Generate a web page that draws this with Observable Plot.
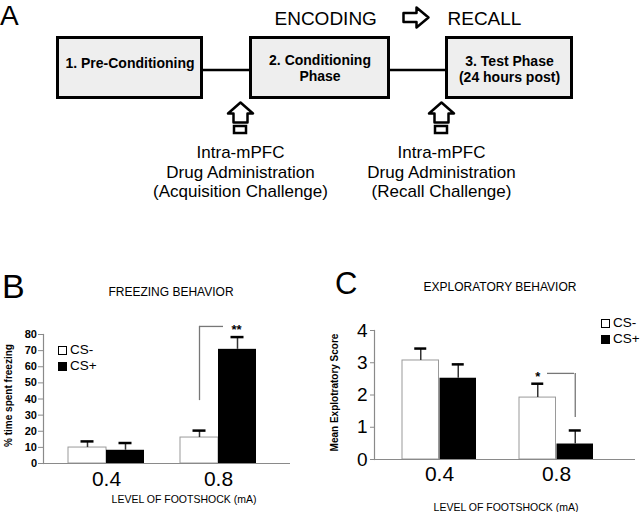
<!DOCTYPE html>
<html><head><meta charset="utf-8">
<script src="https://cdn.jsdelivr.net/npm/d3@7"></script>
<script src="https://cdn.jsdelivr.net/npm/@observablehq/plot@0.6"></script>
<style>
body{margin:0;background:#fff;}
#fig{position:relative;width:640px;height:512px;overflow:hidden;font-family:"Liberation Sans",Arial,sans-serif;color:#000;}
#fig svg{position:absolute;}
.t{position:absolute;line-height:1;white-space:nowrap;}
.sw{position:absolute;width:9px;height:9px;box-sizing:border-box;border:1px solid #000;}
</style></head>
<body><div id="fig"></div>
<script>
// ---------- data ----------
const phases = ["1. Pre-Conditioning", "2. Conditioning\nPhase", "3. Test Phase\n(24 hours post)"];
const stages = ["ENCODING", "RECALL"];
const injections = ["Intra-mPFC\nDrug Administration\n(Acquisition Challenge)", "Intra-mPFC\nDrug Administration\n(Recall Challenge)"];

const doses = ["0.4", "0.8"];
const groups = ["CS-", "CS+"];

const freezeMinus = [9.9, 16.1];
const freezeMinusErr = [3.8, 4.3];
const freezePlus = [8.2, 70.8];
const freezePlusErr = [4.5, 7.6];
const freezeTicks = [0, 10, 20, 30, 40, 50, 60, 70, 80];
const freezeSig = [{dose: "0.8", label: "**", top: 85, base: 39}];

const exploreMinus = [3.07, 1.92];
const exploreMinusErr = [0.37, 0.43];
const explorePlus = [2.52, 0.48];
const explorePlusErr = [0.43, 0.42];
const exploreTicks = [0, 1, 2, 3, 4];
const exploreSig = [{dose: "0.8", label: "*", top: 2.67, base: 1.3}];

const FONT = "Liberation Sans, Arial, Helvetica, sans-serif";
const fig = document.getElementById("fig");

function place(el, left, top) { el.style.left = left + "px"; el.style.top = top + "px"; fig.appendChild(el); return el; }
function label(text, x, baseline, size, opts = {}) {
  const d = document.createElement("div");
  d.className = "t";
  d.textContent = text;
  d.style.fontSize = size + "px";
  const lh = opts.lh || 1;
  d.style.lineHeight = lh;
  if (opts.bold) d.style.fontWeight = "bold";
  const top = baseline - ((lh - 1.117) / 2 + 0.905) * size;
  if (opts.center) { d.style.width = "300px"; d.style.textAlign = "center"; place(d, x - 150, top); }
  else place(d, x, top);
  return d;
}

// ---------- panel A (schematic) ----------
const boxEdges = [[56, 203], [249, 390], [445, 573]];
const boxTop = 36, boxBottom = 99, boxTextY = [63, 67.5, 68.5], linkY = 69.5;
const boxes = phases.map((name, i) => ({name, x1: boxEdges[i][0] + 1.5, x2: boxEdges[i][1] - 1.5, y1: boxTop + 1.5, y2: boxBottom - 1.5, tx: (boxEdges[i][0] + boxEdges[i][1]) / 2, ty: boxTextY[i]}));
const links = boxes.slice(1).map((b, i) => ({x1: boxes[i].x2, x2: b.x1, y: linkY}));
const injX = [240, 441];
const injRows = injections.map((t, i) => ({t, x: injX[i]}));
const stageRows = stages.map((t, i) => ({t, x: [274, 447][i]}));
const upArrow = cx => [[cx, 102], [cx + 12.5, 113], [cx + 7, 113], [cx + 7, 122], [cx - 7, 122], [cx - 7, 113], [cx - 12.5, 113]];
const arrowPts = [];
[[[403, 12.5], [416, 12.5], [416, 7], [428, 17], [416, 27], [416, 21.5], [403, 21.5]], ...injX.map(upArrow)]
  .forEach((poly, k) => poly.forEach(([x, y]) => arrowPts.push({k, x, y})));
const stubs = injX.map(cx => ({x1: cx - 6, x2: cx + 6, y1: 126, y2: 133}));

const chartA = Plot.plot({
  width: 640, height: 268, margin: 0,
  style: {fontFamily: FONT, background: "transparent", overflow: "visible", color: "black"},
  x: {type: "identity", axis: null}, y: {type: "identity", axis: null},
  marks: [
    Plot.link(links, {x1: "x1", x2: "x2", y1: "y", y2: "y", stroke: "black", strokeWidth: 2.5}),
    Plot.rect(boxes, {x1: "x1", x2: "x2", y1: "y1", y2: "y2", fill: "#eeeeee", stroke: "black", strokeWidth: 3}),
    Plot.text(boxes, {x: "tx", y: "ty", text: "name", fontSize: 14, fontWeight: "bold", lineHeight: 1.1, lineAnchor: "middle"}),
    Plot.text(stageRows, {x: "x", y: 24, text: "t", fontSize: 19, textAnchor: "start", lineAnchor: "bottom"}),
    Plot.line(arrowPts, {x: "x", y: "y", z: "k", curve: "linear-closed", fill: "white", stroke: "black", strokeWidth: 2.5}),
    Plot.rect(stubs, {x1: "x1", x2: "x2", y1: "y1", y2: "y2", fill: "white", stroke: "black", strokeWidth: 2.5}),
    Plot.text(injRows, {x: "x", y: 144, text: "t", fontSize: 17, lineHeight: 1.15, lineAnchor: "top"})
  ]
});
chartA.style.left = "0px"; chartA.style.top = "0px";
fig.appendChild(chartA);

// ---------- panels B and C (bar charts) ----------
function barChart(o) {
  const rows = (means, errs, group) => doses.map((dose, i) => ({dose, group, mean: means[i], err: errs[i]}));
  const minus = rows(o.minus, o.minusErr, groups[0]);
  const plus = rows(o.plus, o.plusErr, groups[1]);
  const h = o.half, capIn = o.half - 6.5;
  const err = (data, dx) => [
    Plot.ruleX(data, {x: "dose", y1: "mean", y2: d => d.mean + d.err, dx, stroke: "#333", strokeWidth: 1.5}),
    Plot.tickY(data, {x: "dose", y: d => d.mean + d.err, dx, insetLeft: capIn, insetRight: capIn, stroke: "black", strokeWidth: 2.5})
  ];
  return Plot.plot({
    width: 320, height: 242, ...o.margins,
    style: {fontFamily: FONT, background: "transparent", overflow: "visible", color: "black"},
    x: {domain: doses, range: o.xRange, paddingInner: o.padIn, paddingOuter: 0},
    y: {domain: o.yDomain},
    marks: [
      Plot.frame({anchor: "left", stroke: "#8a8a8a", strokeWidth: 1.2}),
      Plot.axisY({ticks: o.ticks, tickFormat: "d", tickSize: o.tickSize, tickPadding: o.tickPad, fontSize: o.tickFont, fontWeight: o.tickWeight, stroke: "#8a8a8a", fill: "black", label: null}),
      Plot.axisX({tickSize: 0, tickPadding: o.xPad, fontSize: o.xFont, fill: "black", label: null}),
      Plot.barY(minus, {x: "dose", y: "mean", fill: "white", stroke: "#9a9a9a", strokeWidth: 1, insetRight: h}),
      Plot.barY(plus, {x: "dose", y: "mean", fill: "black", insetLeft: h}),
      ...err(minus, -h / 2), ...err(plus, h / 2),
      Plot.ruleY([0], {stroke: "#8a8a8a", strokeWidth: 1.2}),
      Plot.ruleX(o.sig, {x: "dose", y1: "base", y2: "top", dx: o.sigVdx, stroke: "#777", strokeWidth: 1.3}),
      Plot.tickY(o.sig, {x: "dose", y: "top", insetLeft: o.sigInL, insetRight: o.sigInR, stroke: "#777", strokeWidth: 1.3}),
      Plot.text(o.sig, {x: "dose", y: "top", text: "label", dx: o.starDx, dy: 3, fontSize: 13, fontWeight: "bold", lineAnchor: "middle"}),
      Plot.text([o.ylabel], {frameAnchor: "left", textAnchor: "middle", rotate: -90, dx: o.ylDx, dy: o.ylDy, fontSize: 10, fontWeight: "bold", lineAnchor: "middle"})
    ]
  });
}

const chartB = barChart({
  minus: freezeMinus, minusErr: freezeMinusErr, plus: freezePlus, plusErr: freezePlusErr,
  yDomain: [0, 80], ticks: freezeTicks, tickSize: 5, tickPad: 1.5, tickFont: 11, tickWeight: "bold",
  margins: {marginTop: 64, marginBottom: 49, marginLeft: 43, marginRight: 30},
  xRange: [68, 256.5], padIn: 0.324, half: 38, xFont: 21, xPad: 8,
  sig: freezeSig, sigVdx: -19, sigInL: 19, sigInR: 33, starDx: 18,
  ylabel: "% time spent freezing", ylDx: -35, ylDy: -3.5
});
chartB.style.left = "0px"; chartB.style.top = "270px";
fig.appendChild(chartB);

const chartC = barChart({
  minus: exploreMinus, minusErr: exploreMinusErr, plus: explorePlus, plusErr: explorePlusErr,
  yDomain: [0, 4], ticks: exploreTicks, tickSize: 4, tickPad: 3, tickFont: 19, tickWeight: "normal",
  margins: {marginTop: 60, marginBottom: 53, marginLeft: 54, marginRight: 5},
  xRange: [81, 274], padIn: 0.364, half: 37.5, xFont: 21, xPad: 7,
  sig: exploreSig, sigVdx: 18.75, sigInL: 28, sigInR: 19, starDx: -18.75,
  ylabel: "Mean Explotratory Score", ylDx: -40, ylDy: -2.5
});
chartC.style.left = "320px"; chartC.style.top = "270px";
fig.appendChild(chartC);

// ---------- text around the charts ----------
label("A", 0, 25.5, 28, {lh: 0.8});
label("B", 2, 298, 34, {lh: 0.8});
label("C", 335, 295, 31, {lh: 0.8});
label("FREEZING BEHAVIOR", 171, 296, 12, {center: true});
label("EXPLORATORY BEHAVIOR", 500, 291, 12, {center: true});
label("LEVEL OF FOOTSHOCK (mA)", 184, 503, 10.5, {center: true});
label("LEVEL OF FOOTSHOCK (mA)", 506, 511, 10.5, {center: true});

// legends
function legend(x, rows) {
  groups.forEach((g, i) => {
    const s = document.createElement("div");
    s.className = "sw";
    s.style.background = i === 0 ? "white" : "black";
    place(s, x, rows[i] - 4.5);
    label(g, x + 12, rows[i] + 4.7, 13.5);
  });
}
legend(58, [350, 366]);
legend(601, [323, 339]);
</script>
</body></html>
